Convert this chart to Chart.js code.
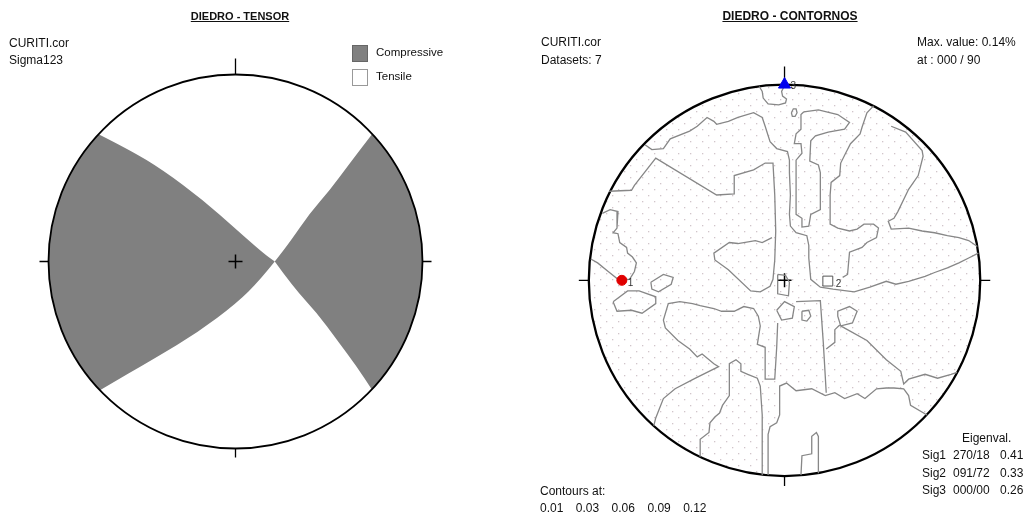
<!DOCTYPE html>
<html>
<head>
<meta charset="utf-8">
<script src="https://cdn.jsdelivr.net/npm/chart.js@4.4.1/dist/chart.umd.min.js"></script>
<style>
  body { margin:0; background:#fff; width:1027px; height:518px; position:relative; overflow:hidden;
         font-family:"Liberation Sans", Arial, sans-serif; color:#111; }
  canvas { position:absolute; top:0; }
  .t { position:absolute; font-size:12px; line-height:14px; white-space:nowrap; }
  .title { font-weight:bold; text-decoration:underline; transform:translateX(-50%); }
  .box { position:absolute; width:14px; height:15px; border:1px solid #666; }
</style>
</head>
<body>
<canvas id="tensor" width="513" height="518" style="left:0"></canvas>
<canvas id="contours" width="514" height="518" style="left:513px"></canvas>

<div class="t title" style="left:240px;top:9px;font-size:11px">DIEDRO - TENSOR</div>
<div class="t" style="left:9px;top:36px">CURITI.cor</div>
<div class="t" style="left:9px;top:53px">Sigma123</div>
<div class="box" style="left:352px;top:45px;background:#808080"></div>
<div class="t" style="left:376px;top:45px;font-size:11.5px">Compressive</div>
<div class="box" style="left:352px;top:69px;background:#fff;border-color:#999"></div>
<div class="t" style="left:376px;top:69px;font-size:11.5px">Tensile</div>

<div class="t title" style="left:790px;top:9px">DIEDRO - CONTORNOS</div>
<div class="t" style="left:541px;top:35px">CURITI.cor</div>
<div class="t" style="left:541px;top:53px">Datasets: 7</div>
<div class="t" style="left:917px;top:35px">Max. value: 0.14%</div>
<div class="t" style="left:917px;top:53px">at : 000 / 90</div>
<div class="t" style="left:962px;top:431px">Eigenval.</div>
<div id="eigen"></div>
<div class="t" style="left:540px;top:484px">Contours at:</div>
<div id="levels"></div>

<script>
// ---- Tensor net: edges of the compressive dihedra (net units, primitive radius = 100) ----
const tensorUpperWest = [[-73.5,68.2],[-56.4,59.6],[-38.8,48.9],[-17.4,32.9],[0.8,16.8],[14.7,4.5],[21,0]];
const tensorLowerWest = [[21,0],[13.1,-9.9],[0.8,-22.2],[-20.6,-38.2],[-42.0,-51.1],[-72.5,-68.8]];
const tensorUpperEast = [[73.1,68.2],[61.2,52.7],[50.5,38.2],[39.8,25.9],[29.1,10.4],[21,0]];
const tensorLowerEast = [[21,0],[30.8,-13.6],[43.6,-27.5],[54.3,-42.0],[65.0,-56.4],[72.9,-68.5]];

// ---- Principal axes (trend / plunge in degrees) ----
const sigmaNames  = ['Sig1', 'Sig2', 'Sig3'];
const sigmaTrend  = [270, 91, 0];
const sigmaPlunge = [18, 72, 0];
const sigmaEigen  = [0.41, 0.33, 0.26];
const contourLevels = [0.01, 0.03, 0.06, 0.09, 0.12];

// ---- Contour lines of the dihedra density (net units) ----
const contourTopNotch = [[-12.9,99.0],[-11.4,96.5],[-10.9,93.1],[-8.4,90.1],[-3.0,89.6],[0.5,90.6],[1.0,92.6],[-1.0,94.1],[-1.5,96.5],[0,99.5]];
const contourTopEllipse = [[3.5,85.6],[4.5,87.6],[5.9,87.6],[6.4,85.6],[5.4,83.7],[4.0,83.7],[3.5,85.6]];
const contourNorthLoop = [[9.9,86.1],[17.3,87.1],[27.2,84.7],[33.2,80.7],[30.7,77.2],[22.3,75.7],[15.8,73.8],[13.4,71.3],[12.9,60.9],[17.3,58.9],[18.3,55.0],[18.3,36.1],[13.4,33.7],[12.4,27.7],[8.9,27.2],[8.9,31.7],[5.9,33.7],[5.9,61.4],[8.9,64.9],[8.4,69.8],[5.0,69.8],[5.9,74.8],[8.4,77.2],[8.4,84.7],[9.9,86.1]];
const contourNorthwestEast = [[-71.3,69.3],[-67.8,66.8],[-61.9,67.3],[-58.4,72.3],[-48.5,76.2],[-44.6,78.7],[-39.6,83.2],[-36.1,81.2],[-34.7,79.7],[-28.7,81.2],[-23.8,83.2],[-15.8,85.6],[-11.4,83.2],[-9.9,78.7],[-7.4,70.8],[-4.0,67.3],[1.5,65.8],[2.5,61.4],[2.5,55.0],[3.0,43.6],[2.5,33.7],[3.0,27.7],[5.9,24.3],[11.4,22.8],[12.4,17.8],[12.4,11.4],[13.4,0.5],[18.3,-3.5],[24.8,-4.5],[35.6,-5.9],[43.6,-3.5],[52.0,-0.5],[56.9,-2.0],[63.4,-0.5],[71.8,2.0],[76.7,4.0],[83.2,6.4],[89.1,8.9],[94.1,11.4],[99.0,13.9]];
const contourWestNorth = [[-89.6,45.5],[-78.2,46.0],[-76.7,48.5],[-65.8,62.4],[-34.7,43.6],[-25.7,44.1],[-25.7,53.5],[-15.8,56.4],[-9.9,59.9],[-5.9,59.9],[-5.0,43.6],[-4.5,25.2],[-5.0,10.4],[-5.9,0.5],[-7.4,-3.0],[-12.4,-5.9],[-17.3,-5.4],[-28.7,5.4],[-35.6,10.4],[-36.1,13.9],[-28.2,19.3],[-23.8,18.8],[-14.9,20.3],[-11.4,19.3],[-6.4,21.8]];
const contourNortheastA = [[45.5,89.1],[42.1,85.6],[39.6,78.2],[38.6,74.8],[33.7,69.8],[31.2,64.9],[28.7,59.9],[28.2,53.5],[23.8,50.0],[23.3,43.6],[23.3,28.7],[27.2,26.7],[33.2,25.2],[37.1,26.2],[40.6,28.7],[45.5,28.7],[48.0,26.7],[47.0,21.8],[42.1,19.3],[39.6,16.8],[33.2,14.4],[32.2,3.0],[29.7,1.5]];
const contourNortheastB = [[54.5,78.7],[61.9,75.7],[70.3,66.3],[70.8,63.4],[68.3,53.5],[63.4,46.5],[57.9,35.1],[55.9,31.7],[53.0,30.2],[54.5,26.2],[63.4,26.7],[70.3,25.2],[76.7,24.3],[83.2,22.8],[89.1,21.8],[94.1,20.3],[98.5,17.3]];
const contourWestEdge = [[-93.1,34.2],[-89.1,36.1],[-85.1,35.1],[-85.6,26.7],[-87.6,24.3],[-85.1,23.8],[-84.2,19.3],[-80.7,16.8],[-80.2,13.9],[-77.7,11.9],[-75.7,8.9],[-76.7,4.5],[-79.2,0.5],[-85.1,0.5],[-90.1,4.5],[-95.5,8.9],[-99.0,10.9]];
const contourWestIsletA = [[-68.3,-1.0],[-61.9,3.0],[-56.9,1.5],[-57.9,-2.0],[-64.4,-5.9],[-67.8,-4.5],[-68.3,-1.0]];
const contourWestIsletB = [[-87.6,-10.9],[-80.2,-5.4],[-74.3,-5.4],[-65.8,-8.4],[-65.8,-11.9],[-72.8,-16.8],[-78.2,-15.3],[-85.6,-15.8],[-87.6,-10.9]];
const contourSouthwest = [[-66.8,-74.3],[-65.8,-70.3],[-61.9,-60.4],[-55.9,-55.4],[-45.5,-50.0],[-33.7,-44.1],[-36.1,-42.6],[-42.1,-37.6],[-44.6,-39.1],[-48.5,-35.1],[-54.5,-30.7],[-60.9,-24.3],[-61.9,-20.3],[-59.4,-11.9],[-53.5,-10.9],[-47.0,-11.9],[-43.1,-12.9],[-36.1,-14.4],[-32.2,-15.8],[-25.7,-15.8],[-20.8,-13.4],[-15.8,-14.4],[-13.4,-18.3],[-12.4,-23.3],[-13.9,-32.7],[-9.9,-34.2],[-9.9,-50.5],[-5.0,-50.5],[-4.0,-34.2],[-3.5,-21.8]];
const contourCentreBox = [[-3.5,3.0],[-3.5,-6.9],[2.0,-7.9],[2.5,-1.0],[0.5,2.5],[-3.5,3.0]];
const contourCentreSouthA = [[-4.0,-15.3],[0,-10.9],[5.0,-13.4],[4.0,-19.3],[-1.5,-20.3],[-4.0,-15.3]];
const contourCentreSouthB = [[8.9,-15.8],[12.4,-15.3],[13.4,-18.3],[11.4,-20.8],[8.9,-20.3],[8.9,-15.8]];
const contourSoutheastLoop = [[88.1,-47.0],[85.1,-48.0],[78.2,-50.0],[71.8,-48.0],[63.4,-50.5],[60.9,-53.0],[59.4,-46.5],[52.0,-40.6],[42.1,-30.7],[28.7,-23.3],[34.7,-21.8],[37.1,-15.8],[33.2,-13.4],[27.2,-15.8],[27.2,-18.3],[28.7,-23.3]];
const contourCentreStemA = [[5.9,-10.9],[18.3,-10.4],[19.8,-31.7],[21.3,-57.4]];
const contourCentreStemB = [[28.2,-22.8],[25.7,-25.2],[25.7,-31.7],[21.3,-35.1]];
const contourSouthWavy = [[-8.4,-99.5],[-8.4,-78.7],[-7.4,-74.8],[-4.0,-72.8],[-2.5,-68.8],[-2.5,-54.0],[1.0,-52.5],[5.9,-56.4],[13.9,-55.4],[20.8,-58.9],[25.7,-57.4],[30.7,-60.4],[37.1,-57.9],[41.1,-60.4],[47.0,-55.4],[52.0,-55.0],[55.9,-55.0],[60.9,-55.4],[63.4,-58.9],[64.4,-63.9],[72.8,-68.8]];
const contourSouthV = [[-43.1,-90.1],[-43.1,-81.2],[-38.6,-77.7],[-38.1,-72.8],[-35.6,-69.8],[-33.2,-67.8],[-31.7,-63.9],[-28.2,-58.9],[-28.2,-42.6],[-24.8,-40.6],[-22.3,-42.6],[-22.3,-46.5],[-18.8,-48.0],[-13.9,-50.0],[-12.4,-54.0],[-11.4,-68.8],[-11.4,-99.5]];
const contourSouthNotch = [[8.4,-99.5],[8.9,-89.6],[13.9,-88.6],[13.9,-79.7],[16.3,-77.7],[17.3,-79.7],[17.3,-98.5]];

const contourLines = [contourTopNotch, contourTopEllipse, contourNorthLoop, contourNorthwestEast,
  contourWestNorth, contourNortheastA, contourNortheastB, contourWestEdge, contourWestIsletA,
  contourWestIsletB, contourSouthwest, contourCentreBox, contourCentreSouthA, contourCentreSouthB,
  contourSoutheastLoop, contourCentreStemA, contourCentreStemB, contourSouthWavy, contourSouthV,
  contourSouthNotch];

// ---------------------------------------------------------------------------
const xy = arr => arr.map(p => ({x: p[0], y: p[1]}));

// Lower-hemisphere equal-area (Schmidt) projection of a trend/plunge pair.
function schmidt(trend, plunge) {
  const r = 100 * Math.SQRT2 * Math.sin((90 - plunge) / 2 * Math.PI / 180);
  const t = trend * Math.PI / 180;
  return {x: r * Math.sin(t), y: r * Math.cos(t)};
}

function netScales(width, height, cx, cy, radius) {
  const k = radius / 100;
  return {
    x: {type: 'linear', display: false, min: -cx / k, max: (width - cx) / k},
    y: {type: 'linear', display: false, min: -(height - cy) / k, max: cy / k}
  };
}

function netGeometry(chart) {
  const {x, y} = chart.scales;
  const cx = x.getPixelForValue(0), cy = y.getPixelForValue(0);
  return {cx, cy, R: x.getPixelForValue(100) - cx};
}

function drawFrame(ctx, g, lineWidth, northTick, tick) {
  ctx.save();
  ctx.strokeStyle = '#000';
  ctx.lineWidth = lineWidth;
  ctx.beginPath(); ctx.arc(g.cx, g.cy, g.R, 0, Math.PI * 2); ctx.stroke();
  ctx.lineWidth = 1.3;
  ctx.beginPath();
  ctx.moveTo(g.cx, g.cy - g.R); ctx.lineTo(g.cx, g.cy - g.R - northTick);
  ctx.moveTo(g.cx, g.cy + g.R); ctx.lineTo(g.cx, g.cy + g.R + tick);
  ctx.moveTo(g.cx - g.R, g.cy); ctx.lineTo(g.cx - g.R - tick, g.cy);
  ctx.moveTo(g.cx + g.R, g.cy); ctx.lineTo(g.cx + g.R + tick, g.cy);
  ctx.stroke();
  ctx.lineWidth = 1.5;
  ctx.beginPath();
  ctx.moveTo(g.cx - 7, g.cy); ctx.lineTo(g.cx + 7, g.cy);
  ctx.moveTo(g.cx, g.cy - 7); ctx.lineTo(g.cx, g.cy + 7);
  ctx.stroke();
  ctx.restore();
}

function tracePoints(ctx, pts, first) {
  pts.forEach((p, i) => (i === 0 && first) ? ctx.moveTo(p.x, p.y) : ctx.lineTo(p.x, p.y));
}

// Smooth path through element positions (quadratic segments through midpoints).
function traceSmooth(ctx, pts, first) {
  if (first) ctx.moveTo(pts[0].x, pts[0].y); else ctx.lineTo(pts[0].x, pts[0].y);
  for (let i = 1; i < pts.length - 1; i++) {
    const mx = (pts[i].x + pts[i + 1].x) / 2, my = (pts[i].y + pts[i + 1].y) / 2;
    ctx.quadraticCurveTo(pts[i].x, pts[i].y, mx, my);
  }
  const last = pts[pts.length - 1];
  ctx.lineTo(last.x, last.y);
}

const baseOptions = {
  responsive: false, animation: false, events: [],
  layout: {padding: 0},
  plugins: {legend: {display: false}, tooltip: {enabled: false}, title: {display: false}},
  elements: {point: {radius: 0}, line: {tension: 0}}
};

// ---------------- Tensor (compressive / tensile dihedra) ----------------
const tensorFill = {
  id: 'tensorFill',
  beforeDatasetsDraw(chart) {
    const ctx = chart.ctx, g = netGeometry(chart);
    const pts = i => chart.getDatasetMeta(i).data;
    const ang = p => Math.atan2(p.y - g.cy, p.x - g.cx);
    ctx.save();
    ctx.fillStyle = '#808080';
    // western compressive dihedron
    let up = pts(0), lo = pts(1);
    ctx.beginPath(); traceSmooth(ctx, up, true); traceSmooth(ctx, lo, false);
    ctx.arc(g.cx, g.cy, g.R, ang(lo[lo.length - 1]), ang(up[0]), false);
    ctx.closePath(); ctx.fill();
    // eastern compressive dihedron
    up = pts(2); lo = pts(3);
    ctx.beginPath(); traceSmooth(ctx, up, true); traceSmooth(ctx, lo, false);
    ctx.arc(g.cx, g.cy, g.R, ang(lo[lo.length - 1]), ang(up[0]), true);
    ctx.closePath(); ctx.fill();
    ctx.restore();
  },
  afterDatasetsDraw(chart) {
    drawFrame(chart.ctx, netGeometry(chart), 1.8, 16, 9);
  }
};

// edges are carried by the datasets; the fill plugin paints between them
const edge = data => ({data: xy(data), borderColor: 'rgba(128,128,128,0)', borderWidth: 0, pointRadius: 0, fill: false});

new Chart(document.getElementById('tensor'), {
  type: 'line',
  data: {datasets: [edge(tensorUpperWest), edge(tensorLowerWest), edge(tensorUpperEast), edge(tensorLowerEast)]},
  options: Object.assign({}, baseOptions, {scales: netScales(513, 518, 235.5, 261.5, 187)}),
  plugins: [tensorFill]
});

// ---------------- Contoured dihedra ----------------
function dotPattern(ctx) {
  const tile = document.createElement('canvas');
  tile.width = 12; tile.height = 12;
  const t = tile.getContext('2d');
  t.fillStyle = 'rgba(190,172,180,0.7)';
  t.fillRect(3, 3, 1.3, 1.3);
  t.fillRect(9, 9, 1.3, 1.3);
  return ctx.createPattern(tile, 'repeat');
}

const sigmaPoints = sigmaTrend.map((t, i) => schmidt(t, sigmaPlunge[i]));
const SYMBOLS = 3;
const wavyIndex = SYMBOLS + contourLines.indexOf(contourSouthWavy);

const contourNet = {
  id: 'contourNet',
  beforeDatasetsDraw(chart) {
    const ctx = chart.ctx, g = netGeometry(chart);
    ctx.save();
    ctx.beginPath(); ctx.arc(g.cx, g.cy, g.R, 0, Math.PI * 2); ctx.clip();
    ctx.fillStyle = dotPattern(ctx);
    ctx.fillRect(g.cx - g.R, g.cy - g.R, 2 * g.R, 2 * g.R);
    // area south of the lowest contour stays unshaded
    const w = chart.getDatasetMeta(wavyIndex).data;
    const ang = p => Math.atan2(p.y - g.cy, p.x - g.cx);
    ctx.beginPath(); tracePoints(ctx, w, true);
    ctx.arc(g.cx, g.cy, g.R, ang(w[w.length - 1]), ang(w[0]), false);
    ctx.closePath(); ctx.fillStyle = '#fff'; ctx.fill();
    ctx.restore();
    drawFrame(ctx, g, 2.3, 18, 10);
  },
  afterDatasetsDraw(chart) {
    const ctx = chart.ctx;
    ctx.save();
    ctx.fillStyle = '#333';
    ctx.font = '10px "Liberation Sans", Arial, sans-serif';
    ctx.textBaseline = 'middle';
    const labelOf = {0: '1', 1: '3', 2: '2'};
    const offs = {0: [6, 3], 1: [6, 2], 2: [8, 3]};
    for (let i = 0; i < SYMBOLS; i++) {
      const p = chart.getDatasetMeta(i).data[0];
      ctx.fillText(labelOf[i], p.x + offs[i][0], p.y + offs[i][1]);
    }
    ctx.restore();
  }
};

const symbolSets = [
  {data: [sigmaPoints[0]], showLine: false, pointStyle: 'circle', pointRadius: 5,
   backgroundColor: '#e00000', borderColor: '#e00000', borderWidth: 1},
  {data: [sigmaPoints[2]], showLine: false, pointStyle: 'triangle', pointRadius: 7,
   backgroundColor: '#0000ee', borderColor: '#0000ee', borderWidth: 1},
  {data: [sigmaPoints[1]], showLine: false, pointStyle: 'rect', pointRadius: 7,
   backgroundColor: '#fff', borderColor: '#555', borderWidth: 1}
];
const contourSets = contourLines.map(c => ({
  data: xy(c), borderColor: '#878787', borderWidth: 1.3, pointRadius: 0, fill: false
}));

new Chart(document.getElementById('contours'), {
  type: 'line',
  data: {datasets: symbolSets.concat(contourSets)},
  options: Object.assign({}, baseOptions, {scales: netScales(514, 518, 272, 281, 202)}),
  plugins: [contourNet]
});

// ---------------- Text blocks built from the data ----------------
const eigen = document.getElementById('eigen');
sigmaNames.forEach((n, i) => {
  const top = 448 + i * 17.5;
  const tp = String(sigmaTrend[i]).padStart(3, '0') + '/' + String(sigmaPlunge[i]).padStart(2, '0');
  [[n, 922], [tp, 953], [sigmaEigen[i].toFixed(2), 1000]].forEach(([txt, left]) => {
    const d = document.createElement('div');
    d.className = 't'; d.style.left = left + 'px'; d.style.top = top + 'px'; d.textContent = txt;
    eigen.appendChild(d);
  });
});
const levels = document.getElementById('levels');
contourLevels.forEach((v, i) => {
  const d = document.createElement('div');
  d.className = 't'; d.style.left = (540 + i * 35.8) + 'px'; d.style.top = '501px';
  d.textContent = v.toFixed(2);
  levels.appendChild(d);
});
</script>
</body>
</html>
